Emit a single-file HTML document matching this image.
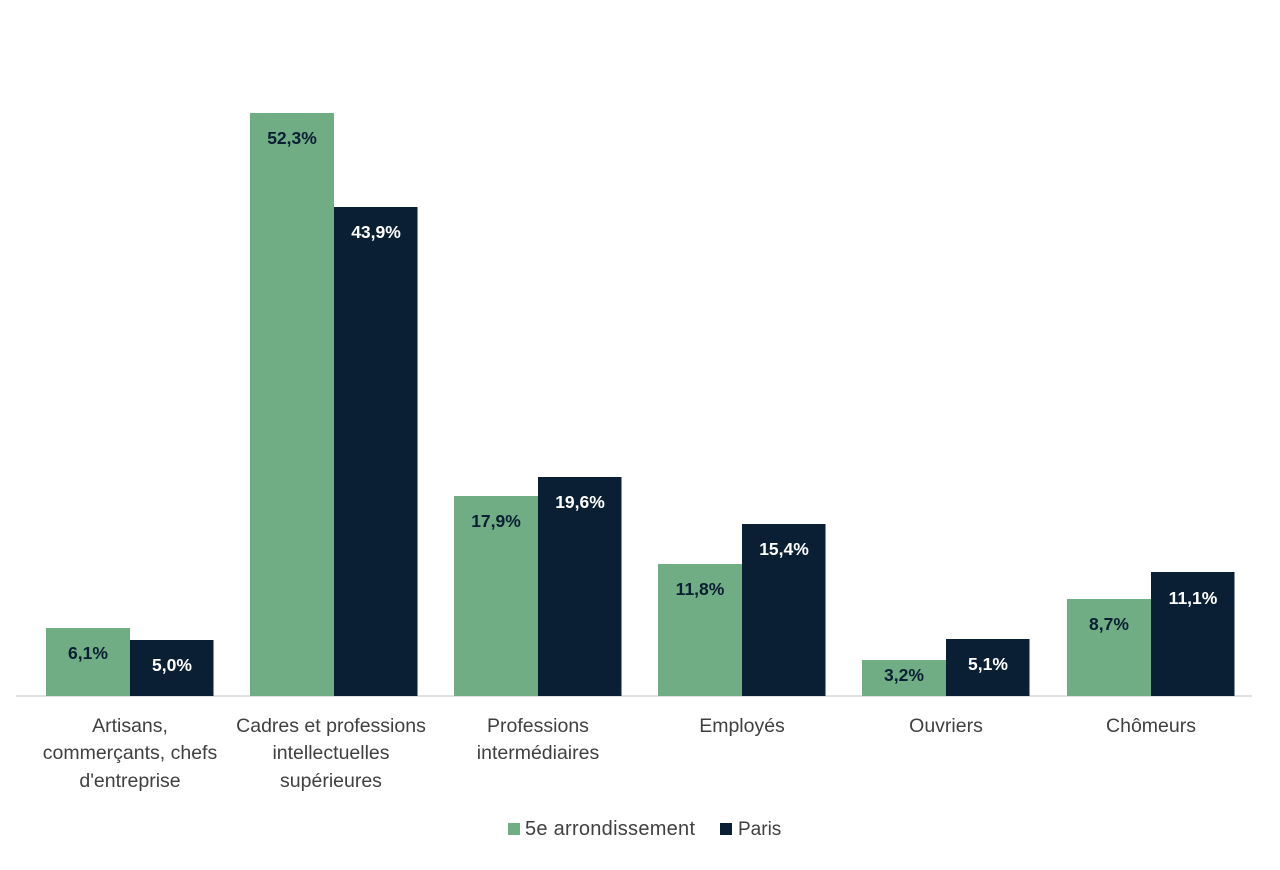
<!DOCTYPE html>
<html><head><meta charset="utf-8"><style>
body{margin:0;background:#fff;}
svg text{font-family:"Liberation Sans",sans-serif;}
</style></head><body>
<svg width="1280" height="865" xmlns="http://www.w3.org/2000/svg">
<rect width="1280" height="865" fill="#fff"/>
<line x1="16" y1="696" x2="1252" y2="696" stroke="#d9d9d9" stroke-width="1.5"/>
<rect x="46" y="628" width="84" height="68" fill="#70ad84"/>
<rect x="130" y="640" width="83.5" height="56" fill="#0a1f33"/>
<rect x="250" y="113" width="84" height="583" fill="#70ad84"/>
<rect x="334" y="207" width="83.5" height="489" fill="#0a1f33"/>
<rect x="454" y="496" width="84" height="200" fill="#70ad84"/>
<rect x="538" y="477" width="83.5" height="219" fill="#0a1f33"/>
<rect x="658" y="564" width="84" height="132" fill="#70ad84"/>
<rect x="742" y="524" width="83.5" height="172" fill="#0a1f33"/>
<rect x="862" y="660" width="84" height="36" fill="#70ad84"/>
<rect x="946" y="639" width="83.5" height="57" fill="#0a1f33"/>
<rect x="1067" y="599" width="84" height="97" fill="#70ad84"/>
<rect x="1151" y="572" width="83.5" height="124" fill="#0a1f33"/>
<g font-size="17.5" font-weight="bold" text-anchor="middle">
<text x="88" y="659" fill="#0a1f33">6,1%</text>
<text x="172" y="671" fill="#fff">5,0%</text>
<text x="292" y="144" fill="#0a1f33">52,3%</text>
<text x="376" y="238" fill="#fff">43,9%</text>
<text x="496" y="527" fill="#0a1f33">17,9%</text>
<text x="580" y="508" fill="#fff">19,6%</text>
<text x="700" y="595" fill="#0a1f33">11,8%</text>
<text x="784" y="555" fill="#fff">15,4%</text>
<text x="904" y="681" fill="#0a1f33">3,2%</text>
<text x="988" y="670" fill="#fff">5,1%</text>
<text x="1109" y="630" fill="#0a1f33">8,7%</text>
<text x="1193" y="604" fill="#fff">11,1%</text>
</g>
<g font-size="19.5" fill="#404040" text-anchor="middle">
<text x="130" y="732">Artisans,</text>
<text x="130" y="759">commerçants, chefs</text>
<text x="130" y="787">d'entreprise</text>
<text x="331" y="732">Cadres et professions</text>
<text x="331" y="759">intellectuelles</text>
<text x="331" y="787">supérieures</text>
<text x="538" y="732">Professions</text>
<text x="538" y="759">intermédiaires</text>
<text x="742" y="732">Employés</text>
<text x="946" y="732">Ouvriers</text>
<text x="1151" y="732">Chômeurs</text>
</g>
<rect x="508" y="823" width="12" height="12" fill="#70ad84"/>
<text x="525" y="835" font-size="20" fill="#404040" textLength="170">5e arrondissement</text>
<rect x="720" y="823" width="12" height="12" fill="#0a1f33"/>
<text x="738" y="835" font-size="19" fill="#404040">Paris</text>
</svg>
</body></html>
